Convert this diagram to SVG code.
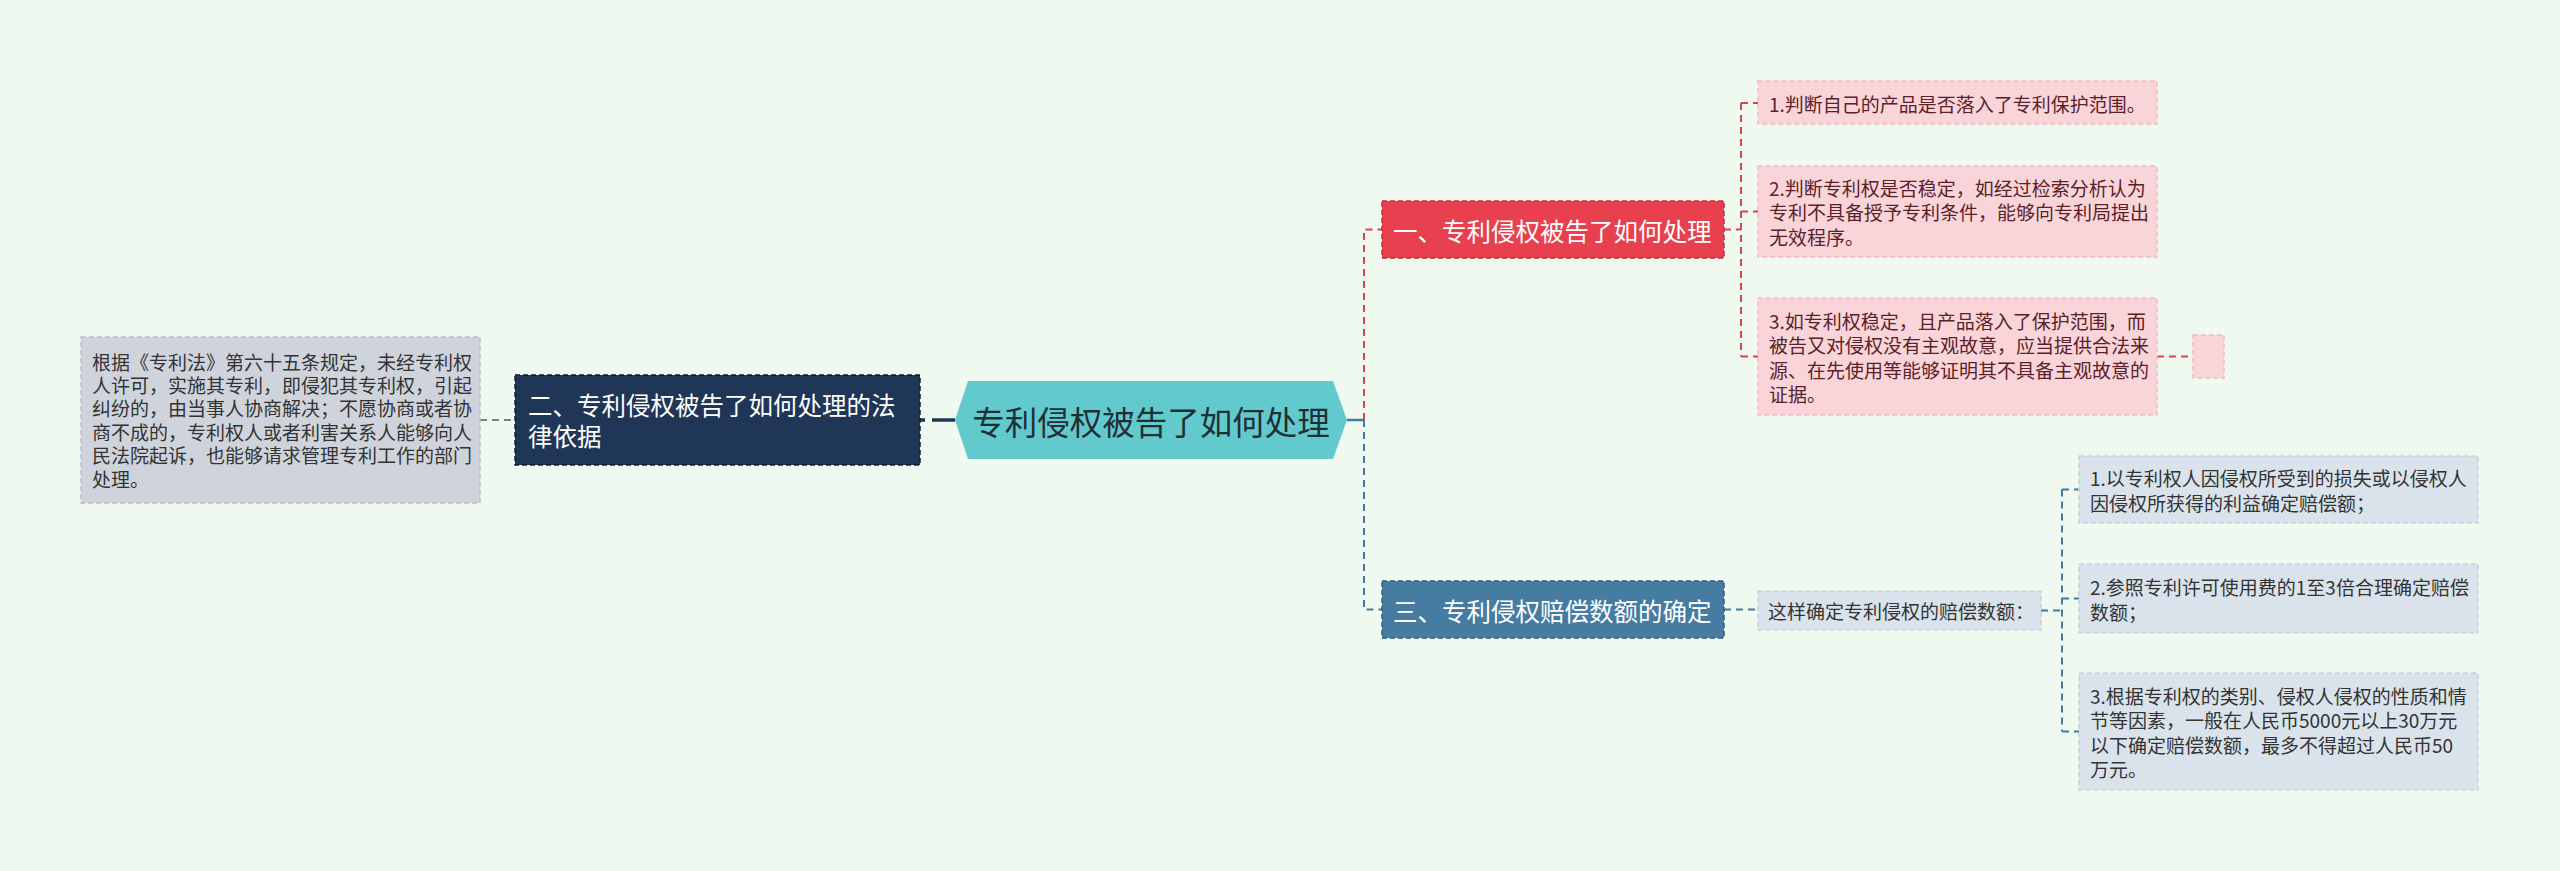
<svg xmlns="http://www.w3.org/2000/svg" width="2560" height="871" viewBox="0 0 2560 871">
<style>
text{font-family:"Noto Sans CJK SC","Noto Sans",sans-serif;dominant-baseline:central}
.s{font-size:19px}
.n{font-size:24.5px;fill:#ffffff}
.gray rect{fill:#cfd4dc;stroke:#b9bfc9;stroke-width:1.5;stroke-dasharray:5 3}
.gray text{fill:#333333}
.navy rect{fill:#1f3657;stroke:#0f1d33;stroke-width:1.5;stroke-dasharray:5 3}
.red rect{fill:#e8404e;stroke:#c42c3a;stroke-width:1.5;stroke-dasharray:5 3}
.blue rect{fill:#467ca2;stroke:#2e5d80;stroke-width:1.5;stroke-dasharray:5 3}
.pink rect{fill:#f9d5da;stroke:#f0bcc4;stroke-width:1.5;stroke-dasharray:5 3}
.pink text{fill:#5b2128}
.lb rect{fill:#dae3eb;stroke:#c6d1db;stroke-width:1.5;stroke-dasharray:5 3}
.lb text{fill:#333333}
.c{fill:none}
.cg{stroke:#555c66;stroke-width:1.5;stroke-dasharray:7 5}
.cn{stroke:#1f3657;stroke-width:3.5;stroke-dasharray:23 7}
.cr{stroke:#e0404f;stroke-width:2;stroke-dasharray:7 5}
.cb{stroke:#457aa0;stroke-width:2;stroke-dasharray:7 5}
</style>
<rect x="0" y="0" width="2560" height="871" fill="#f0f9ef"/>
<g id="connectors">
<line class="c cg" x1="480" y1="420" x2="515" y2="420"/>
<line class="c cn" x1="955" y1="420" x2="920" y2="420"/>
<line class="c" x1="1347" y1="420" x2="1364" y2="420" stroke="#457aa0" stroke-width="2.5"/>
<path class="c cr" d="M1364 420 V229.5 H1382"/>
<path class="c cb" d="M1364 420 V609.5 H1382"/>
<path class="c cr" d="M1724 229.5 H1741 M1741 103 V356.5 M1741 103 H1758 M1741 211.5 H1758 M1741 356.5 H1758 M2157 356.5 H2193"/>
<path class="c cb" d="M1724 609.5 H1758 M2041 610.5 H2062 M2062 489.5 V731.5 M2062 489.5 H2079 M2062 598.5 H2079 M2062 731.5 H2079"/>
</g>
<g id="root">
<polygon points="955,420 968,381 1333,381 1347,420 1333,459 968,459" fill="#62c9cc"/>
<text x="1151" y="420" text-anchor="middle" font-size="32.5" fill="#1e2f36">专利侵权被告了如何处理</text>
</g>
<g id="legal-basis" class="navy">
<rect x="515" y="375" width="405" height="90"/>
<text class="n" x="528" y="404.5">二、专利侵权被告了如何处理的法</text>
<text class="n" x="528" y="435.5">律依据</text>
</g>
<g id="legal-text" class="gray">
<rect x="81" y="337" width="399" height="166"/>
<text class="s" x="92" y="361">根据《专利法》第六十五条规定，未经专利权</text>
<text class="s" x="92" y="384.4">人许可，实施其专利，即侵犯其专利权，引起</text>
<text class="s" x="92" y="407.8">纠纷的，由当事人协商解决；不愿协商或者协</text>
<text class="s" x="92" y="431.2">商不成的，专利权人或者利害关系人能够向人</text>
<text class="s" x="92" y="454.6">民法院起诉，也能够请求管理专利工作的部门</text>
<text class="s" x="92" y="478">处理。</text>
</g>
<g id="handling" class="red">
<rect x="1382" y="201" width="342" height="57"/>
<text class="n" x="1393" y="230">一、专利侵权被告了如何处理</text>
</g>
<g id="step1" class="pink">
<rect x="1758" y="81" width="399" height="43"/>
<text class="s" x="1769" y="103">1.判断自己的产品是否落入了专利保护范围。</text>
</g>
<g id="step2" class="pink">
<rect x="1758" y="166" width="399" height="91"/>
<text class="s" x="1769" y="187">2.判断专利权是否稳定，如经过检索分析认为</text>
<text class="s" x="1769" y="211.5">专利不具备授予专利条件，能够向专利局提出</text>
<text class="s" x="1769" y="236">无效程序。</text>
</g>
<g id="step3" class="pink">
<rect x="1758" y="298" width="399" height="117"/>
<text class="s" x="1769" y="320">3.如专利权稳定，且产品落入了保护范围，而</text>
<text class="s" x="1769" y="344.5">被告又对侵权没有主观故意，应当提供合法来</text>
<text class="s" x="1769" y="369">源、在先使用等能够证明其不具备主观故意的</text>
<text class="s" x="1769" y="393.5">证据。</text>
</g>
<g id="step3-empty" class="pink">
<rect x="2193" y="335" width="31" height="43"/>
</g>
<g id="damages" class="blue">
<rect x="1382" y="581" width="342" height="57"/>
<text class="n" x="1393" y="610">三、专利侵权赔偿数额的确定</text>
</g>
<g id="damages-how" class="lb">
<rect x="1758" y="591" width="283" height="39"/>
<text class="s" x="1768" y="610.5">这样确定专利侵权的赔偿数额：</text>
</g>
<g id="way1" class="lb">
<rect x="2079" y="456" width="399" height="67"/>
<text class="s" x="2090" y="477.5">1.以专利权人因侵权所受到的损失或以侵权人</text>
<text class="s" x="2090" y="502">因侵权所获得的利益确定赔偿额；</text>
</g>
<g id="way2" class="lb">
<rect x="2079" y="564" width="399" height="69"/>
<text class="s" x="2090" y="586.5">2.参照专利许可使用费的1至3倍合理确定赔偿</text>
<text class="s" x="2090" y="611">数额；</text>
</g>
<g id="way3" class="lb">
<rect x="2079" y="673" width="399" height="117"/>
<text class="s" x="2090" y="695">3.根据专利权的类别、侵权人侵权的性质和情</text>
<text class="s" x="2090" y="719.5">节等因素，一般在人民币5000元以上30万元</text>
<text class="s" x="2090" y="744">以下确定赔偿数额，最多不得超过人民币50</text>
<text class="s" x="2090" y="768.5">万元。</text>
</g>
</svg>
